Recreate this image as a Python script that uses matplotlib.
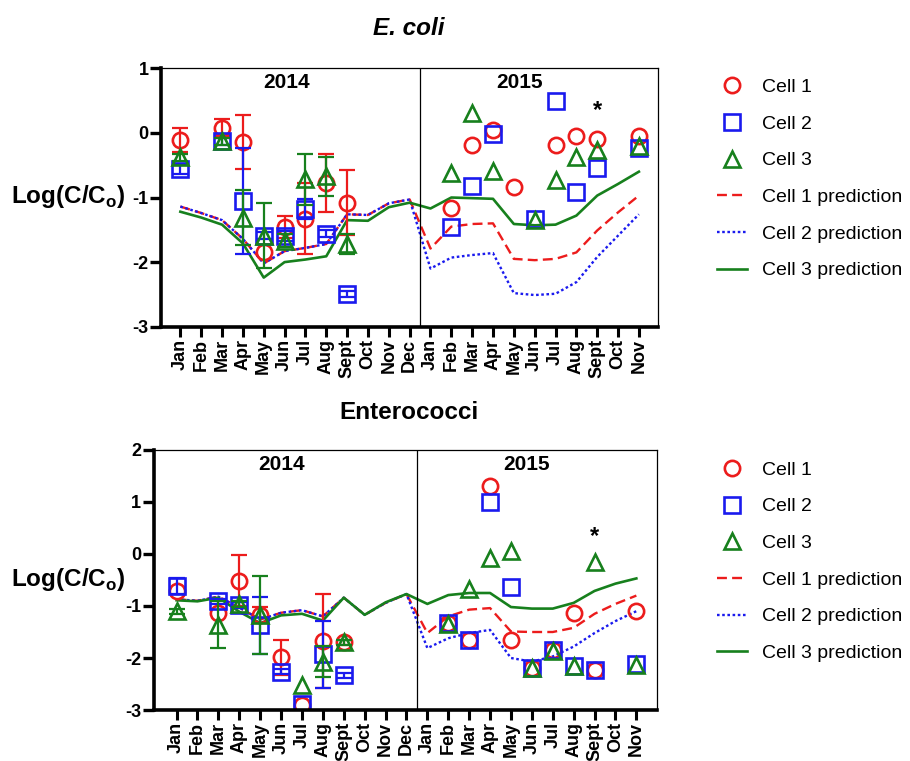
#!/usr/bin/env python

"""Log(C/Co) mensal para E. coli e Enterococci nas celulas 1, 2 e 3,
   com as curvas de previsao do modelo (2014 e 2015).
"""

import sys
import numpy as np
import matplotlib
matplotlib.use('Agg')
import matplotlib.pyplot as plt
from matplotlib.lines import Line2D

nan = np.nan

# rotulos do eixo x: Jan/2014 ate Nov/2015
meses = ['Jan', 'Feb', 'Mar', 'Apr', 'May', 'Jun', 'Jul', 'Aug', 'Sept', 'Oct', 'Nov', 'Dec',
         'Jan', 'Feb', 'Mar', 'Apr', 'May', 'Jun', 'Jul', 'Aug', 'Sept', 'Oct', 'Nov']
anos = ['2014', '2015']

# ---------------- E. coli ----------------
ecoli_cell1 = [-0.11, nan, 0.08, -0.14, -1.84, -1.45, -1.33, -0.78, -1.08, nan, nan, nan,
               nan, -1.17, -0.18, 0.04, -0.83, nan, -0.18, -0.05, -0.10, nan, -0.04]
ecoli_cell1_err = [0.19, nan, 0.13, 0.42, nan, 0.17, 0.55, 0.45, 0.50, nan, nan, nan,
                   nan, nan, nan, nan, nan, nan, nan, nan, nan, nan, nan]
ecoli_cell2 = [-0.56, nan, -0.13, -1.05, -1.59, -1.60, -1.18, -1.56, -2.49, nan, nan, nan,
               nan, -1.46, -0.82, -0.02, nan, -1.33, 0.50, -0.92, -0.55, nan, -0.24]
ecoli_cell2_err = [0.08, nan, 0.05, 0.82, 0.05, 0.08, 0.15, 0.05, 0.05, nan, nan, nan,
                   nan, nan, nan, nan, nan, nan, nan, nan, nan, nan, nan]
ecoli_cell3 = [-0.38, nan, -0.13, -1.31, -1.59, -1.67, -0.72, -0.67, -1.72, nan, nan, nan,
               nan, -0.62, 0.31, -0.59, nan, -1.35, -0.73, -0.38, -0.26, nan, -0.20]
ecoli_cell3_err = [0.05, nan, 0.05, 0.42, 0.50, 0.10, 0.40, 0.30, 0.16, nan, nan, nan,
                   nan, nan, nan, nan, nan, nan, nan, nan, nan, nan, nan]
ecoli_pred1 = [-1.14, -1.24, -1.35, -1.64, -2.02, -1.83, -1.78, -1.72, -1.26, -1.27, -1.09, -1.03,
               -1.79, -1.45, -1.41, -1.40, -1.95, -1.97, -1.95, -1.85, -1.51, -1.23, -0.97]
ecoli_pred2 = [-1.14, -1.24, -1.35, -1.64, -2.02, -1.83, -1.78, -1.72, -1.26, -1.27, -1.09, -1.03,
               -2.10, -1.93, -1.89, -1.86, -2.48, -2.51, -2.49, -2.31, -1.92, -1.59, -1.26]
ecoli_pred3 = [-1.22, -1.31, -1.42, -1.71, -2.24, -2.00, -1.96, -1.91, -1.35, -1.36, -1.15, -1.08,
               -1.17, -1.00, -1.01, -1.02, -1.41, -1.43, -1.42, -1.28, -0.97, -0.79, -0.60]
ecoli_asterisco = (20, 0.35)

# ---------------- Enterococci ----------------
ent_cell1 = [-0.72, nan, -1.13, -0.51, -1.17, -1.99, -2.91, -1.67, -1.70, nan, nan, nan,
             nan, -1.33, -1.65, 1.30, -1.65, -2.19, -1.84, -1.13, -2.23, nan, -1.10]
ent_cell1_err = [nan, nan, nan, 0.49, 0.15, 0.33, nan, 0.90, 0.05, nan, nan, nan,
                 nan, nan, nan, nan, nan, nan, nan, nan, nan, nan, nan]
ent_cell2 = [-0.62, nan, -0.91, -0.98, -1.37, -2.26, -2.88, -1.93, -2.33, nan, nan, nan,
             nan, -1.33, -1.65, 1.00, -0.63, -2.19, -1.84, -2.15, -2.23, nan, -2.12]
ent_cell2_err = [0.15, nan, 0.05, 0.05, 0.55, 0.05, nan, 0.65, 0.05, nan, nan, nan,
                 nan, nan, nan, nan, nan, nan, nan, nan, nan, nan, nan]
ent_cell3 = [-1.10, nan, -1.36, -0.96, -1.17, nan, -2.51, -2.07, -1.70, nan, nan, nan,
             nan, -1.35, -0.68, -0.07, 0.06, -2.20, -1.86, -2.16, -0.16, nan, -2.13]
ent_cell3_err = [0.05, nan, 0.45, 0.05, 0.75, nan, nan, 0.30, 0.05, nan, nan, nan,
                 nan, nan, nan, nan, nan, nan, nan, nan, nan, nan, nan]
ent_pred1 = [-0.87, -0.90, -0.82, -1.03, -1.26, -1.13, -1.08, -1.20, -0.84, -1.17, -0.94, -0.77,
             -1.52, -1.20, -1.07, -1.04, -1.49, -1.50, -1.50, -1.42, -1.15, -0.96, -0.80]
ent_pred2 = [-0.87, -0.90, -0.82, -1.03, -1.26, -1.13, -1.08, -1.20, -0.84, -1.17, -0.94, -0.77,
             -1.81, -1.62, -1.52, -1.46, -2.00, -2.07, -1.97, -1.78, -1.52, -1.29, -1.10]
ent_pred3 = [-0.89, -0.91, -0.84, -1.11, -1.33, -1.18, -1.15, -1.28, -0.84, -1.17, -0.93, -0.77,
             -0.96, -0.79, -0.75, -0.75, -1.02, -1.05, -1.05, -0.94, -0.71, -0.57, -0.47]
ent_asterisco = (20, 0.33)

# cores e estilos (parecidos com o GraphPad)
vermelho = '#ec1c1c'
azul = '#1a1aee'
verde = '#17801d'
nomes = ['Cell 1', 'Cell 2', 'Cell 3',
         'Cell 1 prediction', 'Cell 2 prediction', 'Cell 3 prediction']

plt.rcParams['font.family'] = ['Liberation Sans', 'DejaVu Sans']
plt.rcParams['mathtext.fontset'] = 'custom'
plt.rcParams['mathtext.rm'] = 'Liberation Sans'
plt.rcParams['mathtext.bf'] = 'Liberation Sans:bold'


def painel(ax, dados, erros, previsoes, asterisco, ylim, xlim, pos_anos):
    x = np.arange(len(meses))

    # curvas de previsao
    p1, p2, p3 = previsoes
    ax.plot(x, p1, color=vermelho, lw=1.7, dashes=(4.2, 2.2))
    ax.plot(x, p2, color=azul, lw=1.7, dashes=(1.1, 1.1))
    ax.plot(x, p3, color=verde, lw=1.9)

    # pontos medidos com barras de erro
    marcadores = ['o', 's', '^']
    cores = [vermelho, azul, verde]
    for y, e, m, c in zip(dados, erros, marcadores, cores):
        y = np.array(y, dtype=float)
        e = np.array(e, dtype=float)
        ax.errorbar(x, y, yerr=e, fmt='none', ecolor=c, elinewidth=1.6,
                    capsize=6, capthick=1.6)
        ax.plot(x, y, ls='none', marker=m, ms=11, mfc='none', mec=c, mew=1.9)

    ax.text(asterisco[0], asterisco[1], '*', ha='center', va='center',
            fontsize=17, fontweight='bold')

    # separacao entre os anos
    ax.axvline(11.5, color='black', lw=0.9)
    ax.text(pos_anos[0], 0.945, anos[0], transform=ax.transAxes, ha='center',
            va='center', fontsize=15, fontweight='bold')
    ax.text(pos_anos[1], 0.945, anos[1], transform=ax.transAxes, ha='center',
            va='center', fontsize=15, fontweight='bold')

    ax.set_xlim(xlim)
    ax.set_ylim(ylim)
    ax.set_xticks(x)
    ax.set_xticklabels(meses, rotation=90, fontsize=13, fontweight='bold')
    ax.set_yticks(np.arange(ylim[0], ylim[1] + 1))
    ax.set_yticklabels([str(v) for v in range(ylim[0], ylim[1] + 1)],
                       fontsize=13, fontweight='bold')
    ax.tick_params(axis='y', length=8, width=2.4, pad=1)
    ax.tick_params(axis='x', length=7.5, width=2.2, pad=1)
    ax.spines['left'].set_linewidth(2.6)
    ax.spines['bottom'].set_linewidth(2.6)
    ax.spines['top'].set_linewidth(0.9)
    ax.spines['right'].set_linewidth(0.9)


def legenda(fig, topo):
    kw = dict(ls='none', ms=11, mfc='none', mew=1.9)
    handles = [Line2D([], [], marker='o', mec=vermelho, **kw),
               Line2D([], [], marker='s', mec=azul, **kw),
               Line2D([], [], marker='^', mec=verde, **kw),
               Line2D([], [], color=vermelho, lw=1.7, dashes=(4.2, 2.2)),
               Line2D([], [], color=azul, lw=1.7, dashes=(1.1, 1.1)),
               Line2D([], [], color=verde, lw=1.9)]
    fig.legend(handles, nomes, loc='upper left', bbox_to_anchor=(0.7876, topo),
               bbox_transform=fig.transFigure, frameon=False, fontsize=14,
               borderpad=0, handlelength=1.55, handletextpad=0.77,
               labelspacing=0.98, borderaxespad=0)


def main(arguments):
    fig = plt.figure(figsize=(9.1, 7.61), dpi=100)

    ax1 = fig.add_axes([0.1769, 0.5707, 0.5458, 0.3395])
    painel(ax1, [ecoli_cell1, ecoli_cell2, ecoli_cell3],
           [ecoli_cell1_err, ecoli_cell2_err, ecoli_cell3_err],
           [ecoli_pred1, ecoli_pred2, ecoli_pred3], ecoli_asterisco,
           (-3, 1), (-0.93, 22.9), (0.253, 0.721))

    ax2 = fig.add_axes([0.1688, 0.0670, 0.5530, 0.3417])
    painel(ax2, [ent_cell1, ent_cell2, ent_cell3],
           [ent_cell1_err, ent_cell2_err, ent_cell3_err],
           [ent_pred1, ent_pred2, ent_pred3], ent_asterisco,
           (-3, 2), (-1.1, 22.98), (0.255, 0.741))

    # titulos e rotulos do eixo y
    fig.text(0.4495, 0.963, 'E. coli', ha='center', va='center', fontsize=17.5,
             fontweight='bold', style='italic')
    fig.text(0.4495, 0.458, 'Enterococci', ha='center', va='center',
             fontsize=17.5, fontweight='bold')
    ylabel = r'Log(C/C$_\mathbf{o}$)'
    fig.text(0.075, 0.7415, ylabel, ha='center', va='center', fontsize=17.5,
             fontweight='bold')
    fig.text(0.075, 0.2379, ylabel, ha='center', va='center', fontsize=17.5,
             fontweight='bold')

    legenda(fig, 0.897)
    legenda(fig, 0.394)

    fig.savefig('out.png', dpi=100)


if __name__ == '__main__':
    sys.exit(main(sys.argv[1:]))
